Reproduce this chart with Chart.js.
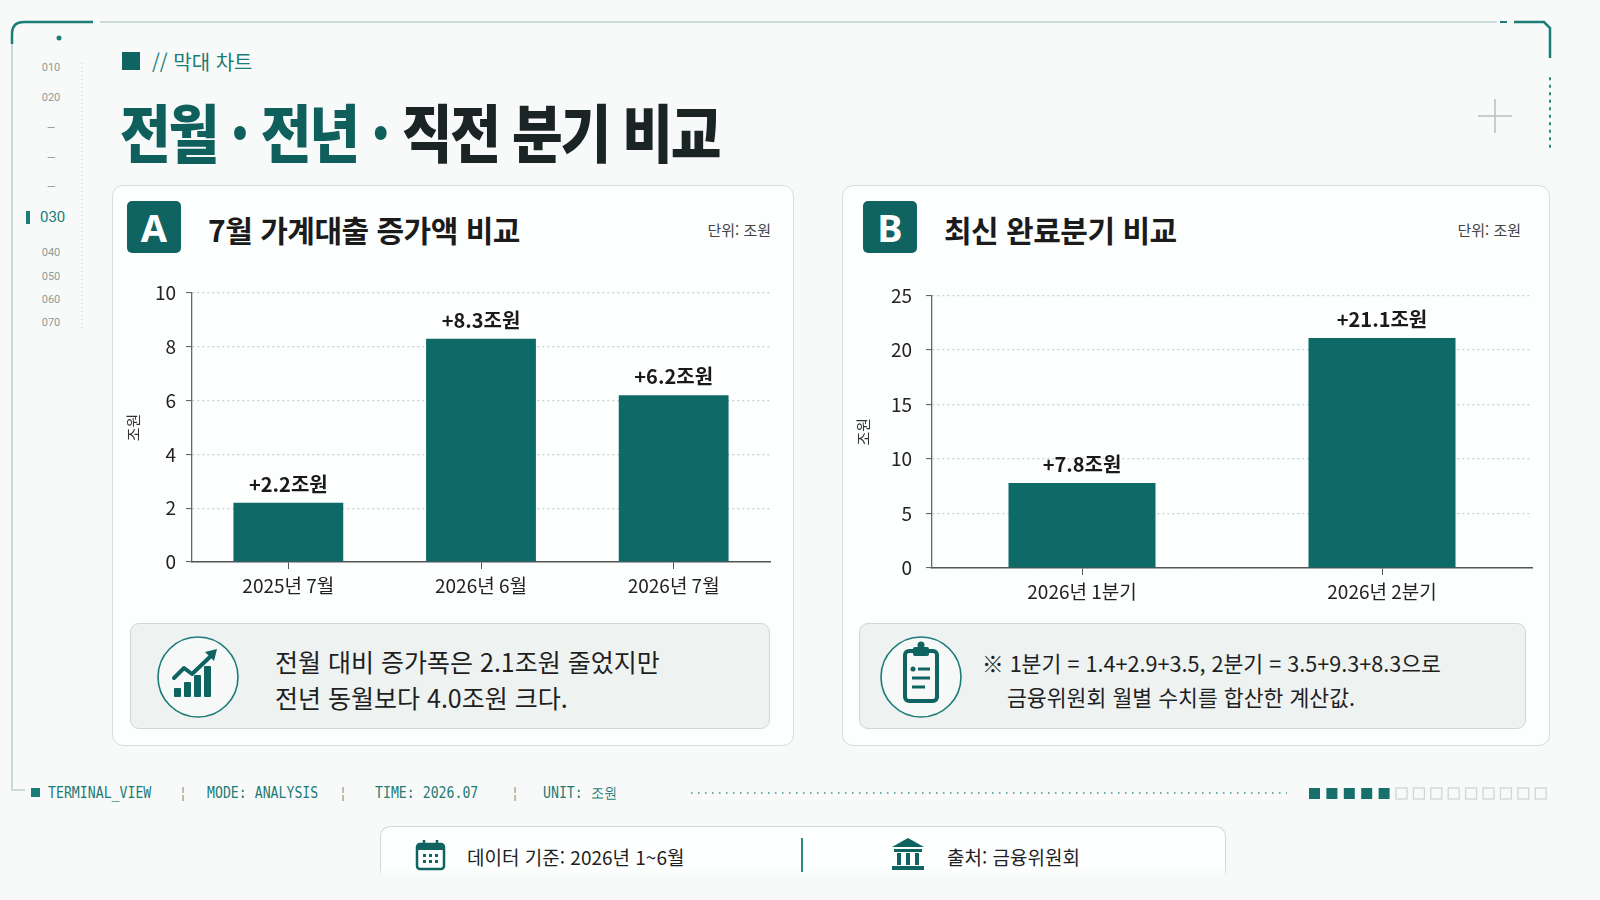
<!DOCTYPE html>
<html lang="ko">
<head>
<meta charset="utf-8">
<script src="https://cdn.jsdelivr.net/npm/chart.js@4.4.1/dist/chart.umd.min.js"></script>
<style>
  html,body{margin:0;padding:0;}
  body{width:1600px;height:900px;position:relative;overflow:hidden;background:#f8faf9;font-family:"Noto Sans CJK KR","Noto Sans",sans-serif;color:#1c1c1c;}
  .abs{position:absolute;}
  .side{position:absolute;width:40px;left:31px;text-align:center;font-family:Roboto,"Noto Sans",sans-serif;font-size:11px;color:#8e9b9a;line-height:12px;}
  .panel{position:absolute;background:#fdfefe;border:1.5px solid #d8dddc;border-radius:11px;box-sizing:border-box;}
  .badge{position:absolute;width:54px;height:52px;background:#0f6461;border-radius:5px;color:#fff;font-weight:700;font-size:38px;line-height:52px;text-align:center;font-family:"Noto Sans","Noto Sans CJK KR",sans-serif;}
  .ptitle{position:absolute;font-size:30px;font-weight:700;color:#1b1b1b;line-height:36px;white-space:nowrap;letter-spacing:-0.5px;}
  .unit{position:absolute;font-size:15px;color:#444;line-height:18px;white-space:nowrap;}
  .note{position:absolute;background:#eef2f1;border:1.5px solid #cfd8d6;border-radius:9px;box-sizing:border-box;}
  .ntext{position:absolute;white-space:nowrap;color:#1f1f1f;}
  .mono{position:absolute;font-family:"DejaVu Sans Mono","Liberation Mono",monospace;font-size:15px;color:#1e7a76;line-height:16px;white-space:nowrap;transform:scaleX(0.88);transform-origin:0 0;}
  canvas{position:absolute;}
</style>
</head>
<body>
<script>
// ---- data ----
const categoriesA = ['2025년 7월', '2026년 6월', '2026년 7월'];
const valuesA = [2.2, 8.3, 6.2];
const yTicksA = [0, 2, 4, 6, 8, 10];

const categoriesB = ['2026년 1분기', '2026년 2분기'];
const valuesB = [7.8, 21.1];
const yTicksB = [0, 5, 10, 15, 20, 25];
</script>

<!-- frame & decorations -->
<svg class="abs" style="left:0;top:0" width="1600" height="900">
  <path d="M12 42 L12 790 L25 790" fill="none" stroke="#bcd0cd" stroke-width="1.5"/>
  <path d="M12 44 L12 34 Q12 22 24 22 L93 22" fill="none" stroke="#1b7c78" stroke-width="2.5"/>
  <path d="M100 22 L1497 22" fill="none" stroke="#bcd0cd" stroke-width="1.5"/>
  <path d="M1500 22 L1507 22" fill="none" stroke="#1b7c78" stroke-width="2"/>
  <path d="M1514 22 L1544 22 L1550 28 L1550 58" fill="none" stroke="#1b7c78" stroke-width="2.5"/>
  <line x1="1550" y1="78" x2="1550" y2="148" stroke="#2a8a85" stroke-width="2" stroke-dasharray="1.5 6" stroke-linecap="round"/>
  <line x1="1478" y1="116" x2="1512" y2="116" stroke="#bdbdbd" stroke-width="1.5"/>
  <line x1="1495" y1="99" x2="1495" y2="133" stroke="#bdbdbd" stroke-width="1.5"/>
  <circle cx="59" cy="38" r="2.5" fill="#1b7c78"/>
  <line x1="82" y1="63" x2="82" y2="330" stroke="#d5dcdb" stroke-width="1.2" stroke-dasharray="1 3"/>
  <rect x="26" y="211" width="4" height="13" fill="#1b7c78"/>
  <rect x="122" y="52" width="18" height="18" fill="#0f6461"/>
  <line x1="126" y1="261" x2="148" y2="261" stroke="#d6dcdb" stroke-width="1.5"/>
  <line x1="192" y1="261" x2="776" y2="261" stroke="#d6dcdb" stroke-width="1.5"/>
  <line x1="863" y1="261" x2="889" y2="261" stroke="#d6dcdb" stroke-width="1.5"/>
  <line x1="929" y1="261" x2="1533" y2="261" stroke="#d6dcdb" stroke-width="1.5"/>
  <line x1="691" y1="793" x2="1287" y2="793" stroke="#3a8f8a" stroke-width="1.5" stroke-dasharray="1.5 5.5"/>
  <g id="sq"></g>
</svg>

<div class="side" style="top:62px">010</div>
<div class="side" style="top:92px">020</div>
<div class="side" style="top:122px">—</div>
<div class="side" style="top:152px">—</div>
<div class="side" style="top:181px">—</div>
<div class="abs" style="left:40px;top:208px;font-family:Roboto,'Noto Sans',sans-serif;font-size:15px;color:#1b7c78;line-height:18px;">030</div>
<div class="side" style="top:247px">040</div>
<div class="side" style="top:271px">050</div>
<div class="side" style="top:294px">060</div>
<div class="side" style="top:317px">070</div>

<div class="abs" style="left:152px;top:48px;font-size:20px;color:#1b7c78;line-height:28px;white-space:nowrap;">// 막대 차트</div>
<div class="abs" style="left:120px;top:90px;font-size:63px;font-weight:900;line-height:80px;white-space:nowrap;letter-spacing:-2.5px;transform:scaleX(0.875);transform-origin:0 0;"><span style="color:#0f5f5c">전월 · 전년 · </span><span style="color:#1a2424">직전 분기 비교</span></div>

<!-- Panel A -->
<div class="panel" style="left:112px;top:185px;width:682px;height:561px;"></div>
<div class="badge" style="left:127px;top:201px;">A</div>
<div class="ptitle" style="left:208px;top:211px;">7월 가계대출 증가액 비교</div>
<div class="unit" style="left:680px;top:221px;width:91px;text-align:right;">단위: 조원</div>
<div class="note" style="left:130px;top:623px;width:640px;height:106px;"></div>
<svg class="abs" style="left:150px;top:630px" width="100" height="95">
  <circle cx="48" cy="47" r="40" fill="#f7f9f9" stroke="#1b7c78" stroke-width="1.6"/>
  <g fill="#0f6461">
    <rect x="24" y="58" width="7" height="9" rx="1"/>
    <rect x="34" y="52" width="7" height="15" rx="1"/>
    <rect x="44" y="45" width="7" height="22" rx="1"/>
    <rect x="54" y="36" width="7" height="31" rx="1"/>
  </g>
  <polyline points="24,48 34,38 42,44 62,25" fill="none" stroke="#0f6461" stroke-width="4" stroke-linejoin="round" stroke-linecap="round"/>
  <polygon points="55,22 67,19 64,31" fill="#0f6461"/>
</svg>
<div class="ntext" style="left:275px;top:644px;font-size:25px;line-height:34px;">전월 대비 증가폭은 2.1조원 줄었지만</div>
<div class="ntext" style="left:275px;top:680px;font-size:25px;line-height:34px;">전년 동월보다 4.0조원 크다.</div>

<!-- Panel B -->
<div class="panel" style="left:842px;top:185px;width:708px;height:561px;"></div>
<div class="badge" style="left:863px;top:201px;">B</div>
<div class="ptitle" style="left:944px;top:211px;">최신 완료분기 비교</div>
<div class="unit" style="left:1430px;top:221px;width:91px;text-align:right;">단위: 조원</div>
<div class="note" style="left:859px;top:623px;width:667px;height:106px;"></div>
<svg class="abs" style="left:873px;top:630px" width="100" height="95">
  <circle cx="48" cy="47" r="40" fill="#f7f9f9" stroke="#1b7c78" stroke-width="1.6"/>
  <rect x="32" y="21" width="32" height="50" rx="4" fill="none" stroke="#0f6461" stroke-width="4"/>
  <rect x="40" y="17" width="16" height="9" rx="2" fill="#0f6461"/>
  <circle cx="48" cy="15" r="3.5" fill="#0f6461"/>
  <circle cx="40" cy="39" r="2.5" fill="#0f6461"/>
  <line x1="45" y1="39" x2="57" y2="39" stroke="#0f6461" stroke-width="3"/>
  <line x1="39" y1="48" x2="57" y2="48" stroke="#0f6461" stroke-width="3"/>
  <line x1="39" y1="57" x2="52" y2="57" stroke="#0f6461" stroke-width="3"/>
</svg>
<div class="ntext" style="left:982px;top:648px;font-size:21.6px;line-height:30px;">※ 1분기 = 1.4+2.9+3.5, 2분기 = 3.5+9.3+8.3으로</div>
<div class="ntext" style="left:1007px;top:682px;font-size:21.6px;line-height:30px;">금융위원회 월별 수치를 합산한 계산값.</div>

<!-- status bar -->
<svg class="abs" style="left:30px;top:787px" width="12" height="12"><rect x="1" y="1" width="9" height="9" fill="#1b7c78"/></svg>
<div class="mono" style="left:48px;top:785px;">TERMINAL_VIEW</div>
<div class="mono" style="left:179px;top:785px;color:#6aa7a3;">¦</div>
<div class="mono" style="left:207px;top:785px;">MODE: ANALYSIS</div>
<div class="mono" style="left:339px;top:785px;color:#6aa7a3;">¦</div>
<div class="mono" style="left:375px;top:785px;">TIME: 2026.07</div>
<div class="mono" style="left:511px;top:785px;color:#6aa7a3;">¦</div>
<div class="mono" style="left:543px;top:785px;">UNIT: 조원</div>

<!-- bottom info box -->
<div class="abs" style="left:380px;top:826px;width:846px;height:60px;background:#fdfefe;border:1.5px solid #d3d9d8;border-bottom:none;border-radius:10px 10px 0 0;box-sizing:border-box;"></div>
<div class="abs" style="left:379px;top:868px;width:850px;height:32px;background:linear-gradient(rgba(248,250,249,0),#f8faf9 30%);"></div>
<svg class="abs" style="left:414px;top:838px" width="34" height="34">
  <rect x="3" y="6" width="27" height="25" rx="3" fill="none" stroke="#0f6461" stroke-width="2.5"/>
  <rect x="3" y="6" width="27" height="6" fill="#0f6461"/>
  <line x1="10" y1="2" x2="10" y2="9" stroke="#0f6461" stroke-width="2.5"/>
  <line x1="23" y1="2" x2="23" y2="9" stroke="#0f6461" stroke-width="2.5"/>
  <g fill="#0f6461">
    <rect x="9" y="16" width="3" height="3"/><rect x="15" y="16" width="3" height="3"/><rect x="21" y="16" width="3" height="3"/>
    <rect x="9" y="22" width="3" height="3"/><rect x="15" y="22" width="3" height="3"/><rect x="21" y="22" width="3" height="3"/>
  </g>
</svg>
<div class="abs" style="left:467px;top:844px;font-size:19px;line-height:26px;white-space:nowrap;color:#1f1f1f;">데이터 기준: 2026년 1~6월</div>
<div class="abs" style="left:801px;top:838px;width:2px;height:34px;background:#2a8a85;"></div>
<svg class="abs" style="left:890px;top:836px" width="38" height="36">
  <polygon points="18,2 34,11 2,11" fill="#0f6461"/>
  <rect x="4" y="13" width="28" height="3" fill="#0f6461"/>
  <rect x="7" y="17" width="4" height="12" fill="#0f6461"/>
  <rect x="16" y="17" width="4" height="12" fill="#0f6461"/>
  <rect x="25" y="17" width="4" height="12" fill="#0f6461"/>
  <rect x="2" y="30" width="32" height="4" fill="#0f6461"/>
</svg>
<div class="abs" style="left:947px;top:844px;font-size:19px;line-height:26px;white-space:nowrap;color:#1f1f1f;">출처: 금융위원회</div>

<canvas id="chartA" width="660" height="345" style="left:120px;top:270px;"></canvas>
<canvas id="chartB" width="690" height="345" style="left:850px;top:270px;"></canvas>

<script>
(function(){
  const g = document.getElementById('sq');
  const ns = 'http://www.w3.org/2000/svg';
  for (let i = 0; i < 14; i++) {
    const r = document.createElementNS(ns, 'rect');
    r.setAttribute('x', 1309 + i * 17.4);
    r.setAttribute('y', 788);
    r.setAttribute('width', 11);
    r.setAttribute('height', 11);
    if (i < 5) { r.setAttribute('fill', '#17706c'); }
    else { r.setAttribute('fill', 'none'); r.setAttribute('stroke', '#cfd6d5'); r.setAttribute('stroke-width', '1.3'); }
    g.appendChild(r);
  }
})();

const TEAL = '#0d6a67';
const FONT = "'Noto Sans CJK KR', 'Noto Sans', sans-serif";

const valueLabels = {
  id: 'valueLabels',
  afterDatasetsDraw(chart) {
    const ctx = chart.ctx;
    const meta = chart.getDatasetMeta(0);
    const data = chart.data.datasets[0].data;
    ctx.save();
    ctx.font = "bold 20px " + FONT;
    ctx.fillStyle = '#1a1a1a';
    ctx.textAlign = 'center';
    ctx.textBaseline = 'alphabetic';
    meta.data.forEach((bar, i) => {
      ctx.fillText('+' + data[i].toFixed(1) + '조원', bar.x, bar.y - 11);
    });
    ctx.restore();
  }
};

function makeChart(id, cats, vals, ticks, cfg) {
  const step = ticks[1] - ticks[0];
  return new Chart(document.getElementById(id), {
    type: 'bar',
    data: {
      labels: cats,
      datasets: [{
        data: vals,
        backgroundColor: TEAL,
        borderWidth: 0,
        barPercentage: cfg.barPct,
        categoryPercentage: 1.0
      }]
    },
    options: {
      responsive: false,
      animation: false,
      devicePixelRatio: 1,
      layout: { padding: { top: cfg.padTop, right: cfg.padRight, left: 0, bottom: 0 } },
      plugins: { legend: { display: false }, tooltip: { enabled: false } },
      scales: {
        x: {
          grid: { display: true, drawOnChartArea: false, drawTicks: true, tickLength: 7, tickColor: '#555', tickWidth: 1, offset: false },
          border: { display: true, color: '#555', width: 1.5 },
          ticks: { color: '#222', font: { family: FONT, size: 19 }, padding: 5 },
          afterFit: s => { s.height = cfg.xHeight; }
        },
        y: {
          min: ticks[0],
          max: ticks[ticks.length - 1],
          ticks: { stepSize: step, color: '#222', font: { family: FONT, size: 19 }, padding: cfg.tickPad },
          grid: { color: '#c8d0cf', lineWidth: 1.2, drawTicks: true, tickLength: 6, tickColor: '#555', tickWidth: 1 },
          border: { display: true, color: '#666', width: 1.3, dash: [2, 3] },
          title: { display: true, text: '조원', color: '#333', font: { family: FONT, size: 15 }, padding: { top: 4, bottom: 0 } },
          afterFit: s => { s.width = cfg.yWidth; }
        }
      }
    },
    plugins: [valueLabels]
  });
}

makeChart('chartA', categoriesA, valuesA, yTicksA, { barPct: 0.57, padTop: 23, padRight: 10, xHeight: 53, yWidth: 72, tickPad: 10 });
makeChart('chartB', categoriesB, valuesB, yTicksB, { barPct: 0.49, padTop: 23, padRight: 8, xHeight: 47, yWidth: 82, tickPad: 14 });
</script>
</body>
</html>
